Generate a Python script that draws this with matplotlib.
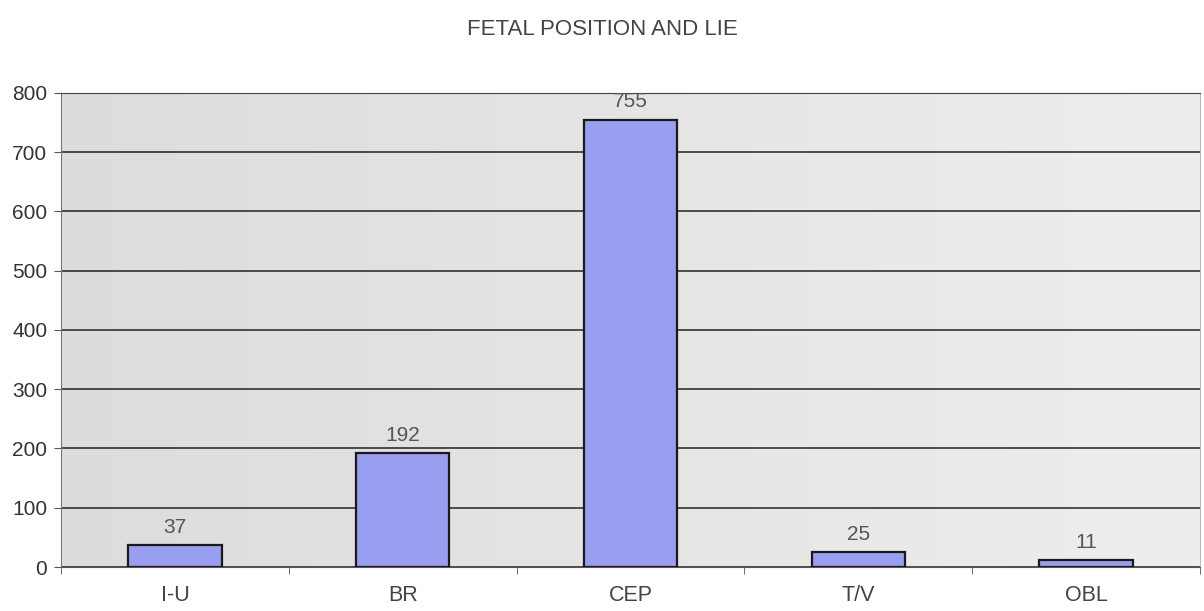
import numpy as np
import matplotlib
matplotlib.use("Agg")
import matplotlib.pyplot as plt

plt.rcParams["font.family"] = ["Liberation Sans", "DejaVu Sans"]

# fetal position / lie counts
categories = ["I-U", "BR", "CEP", "T/V", "OBL"]
counts = [37, 192, 755, 25, 11]
yticks = [0, 100, 200, 300, 400, 500, 600, 700, 800]

fig = plt.figure(figsize=(12.04, 6.11), dpi=100)
ax = fig.add_axes([0.0507, 0.072, 0.946, 0.776])

x = np.arange(len(categories))

# light grey plot area, a touch darker on the left
shade = np.linspace(0.86, 0.93, 256).reshape(1, -1)
ax.imshow(shade, cmap="gray", vmin=0, vmax=1, aspect="auto",
          extent=(-0.5, len(categories) - 0.5, 0, 800), zorder=0)

ax.bar(x, counts, width=0.41, color="#9a9ef0", edgecolor="#1a1a1a", linewidth=1.6, zorder=3)

for xi, c in zip(x, counts):
    ax.text(xi, c + 14, str(c), ha="center", va="bottom", fontsize=15, color="#555555", zorder=4)

ax.set_xlim(-0.5, len(categories) - 0.5)
ax.set_ylim(0, 800)
ax.set_yticks(yticks)
ax.set_yticklabels([str(t) for t in yticks], fontsize=15, color="#333333")
ax.yaxis.grid(True, color="#222222", linewidth=1.1, zorder=1)

# category labels centred, tick marks on the boundaries between categories
ax.set_xticks(x)
ax.set_xticklabels(categories, fontsize=15.5, color="#444444")
ax.tick_params(axis="x", length=0, pad=13)
ax.set_xticks(np.arange(len(categories) + 1) - 0.5, minor=True)
ax.tick_params(axis="x", which="minor", length=5, color="#555555")
ax.tick_params(axis="y", length=5, color="#555555", pad=5)

ax.spines["top"].set_color("#444444")
ax.spines["right"].set_color("#bbbbbb")
ax.spines["left"].set_color("#777777")
ax.spines["bottom"].set_color("#555555")

fig.text(0.5, 0.951, "FETAL POSITION AND LIE", ha="center", va="center", fontsize=16, color="#444444")

fig.savefig("out.png", dpi=100)
